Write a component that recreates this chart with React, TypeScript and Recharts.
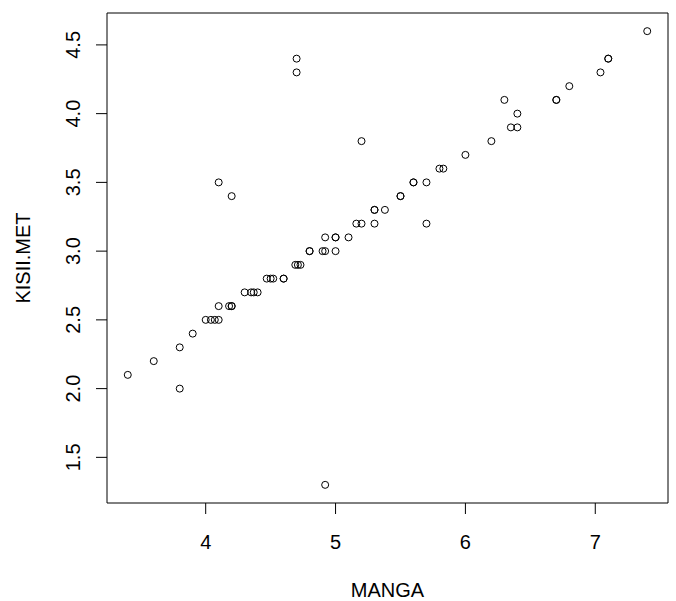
import React from "react";
import {
  ScatterChart,
  Scatter,
  XAxis,
  YAxis,
  ReferenceArea,
} from "recharts";

const mangaValues: number[] = [
  3.4, 3.6, 3.8, 3.8, 3.9, 4.0, 4.04, 4.07, 4.1, 4.1, 4.18, 4.2, 4.2, 4.1, 4.2,
  4.3, 4.35, 4.37, 4.4, 4.47, 4.5, 4.52, 4.6, 4.6, 4.69, 4.71, 4.73, 4.7, 4.7,
  4.8, 4.8, 4.9, 4.92, 5.0, 4.92, 5.0, 5.0, 5.1, 4.92, 5.16, 5.2, 5.3, 5.2,
  5.3, 5.3, 5.38, 5.5, 5.5, 5.6, 5.6, 5.7, 5.7, 5.8, 5.83, 6.0, 6.2, 6.3, 6.35,
  6.4, 6.4, 6.7, 6.7, 6.8, 7.04, 7.1, 7.1, 7.4,
];

const kisiiValues: number[] = [
  2.1, 2.2, 2.3, 2.0, 2.4, 2.5, 2.5, 2.5, 2.5, 2.6, 2.6, 2.6, 2.6, 3.5, 3.4,
  2.7, 2.7, 2.7, 2.7, 2.8, 2.8, 2.8, 2.8, 2.8, 2.9, 2.9, 2.9, 4.4, 4.3,
  3.0, 3.0, 3.0, 3.0, 3.0, 3.1, 3.1, 3.1, 3.1, 1.3, 3.2, 3.2, 3.2, 3.8,
  3.3, 3.3, 3.3, 3.4, 3.4, 3.5, 3.5, 3.5, 3.2, 3.6, 3.6, 3.7, 3.8, 4.1, 3.9,
  3.9, 4.0, 4.1, 4.1, 4.2, 4.3, 4.4, 4.4, 4.6,
];

const xTicks: number[] = [4, 5, 6, 7];
const yTicks: number[] = [1.5, 2.0, 2.5, 3.0, 3.5, 4.0, 4.5];
const xDomain: [number, number] = [3.24, 7.56];
const yDomain: [number, number] = [1.168, 4.732];

const data = mangaValues.map((m, i) => ({ MANGA: m, KISII: kisiiValues[i] }));

const FONT = "'Liberation Sans', Arial, Helvetica, sans-serif";

const XTick = (props: any) => {
  const { x, y, payload } = props;
  return (
    <text
      x={x}
      y={y + 28}
      textAnchor="middle"
      dominantBaseline="central"
      fontFamily={FONT}
      fontSize={20}
      fill="#000"
    >
      {payload.value}
    </text>
  );
};

const YTick = (props: any) => {
  const { x, y, payload } = props;
  const cx = x - 23;
  return (
    <text
      x={cx}
      y={y}
      transform={`rotate(-90, ${cx}, ${y})`}
      textAnchor="middle"
      dominantBaseline="central"
      fontFamily={FONT}
      fontSize={20}
      fill="#000"
    >
      {Number(payload.value).toFixed(1)}
    </text>
  );
};

const Dot = (props: any) => {
  const { cx, cy } = props;
  return <circle cx={cx} cy={cy} r={3.5} fill="none" stroke="#000" strokeWidth={1} />;
};

export default function App() {
  return (
    <div style={{ position: "absolute", left: 0, top: 0, background: "#fff" }}>
      <ScatterChart
        width={676}
        height={601}
        margin={{ top: 13, right: 8, bottom: 0, left: 0 }}
      >
        <XAxis
          type="number"
          dataKey="MANGA"
          domain={xDomain}
          ticks={xTicks}
          allowDataOverflow
          height={98}
          tickSize={11}
          tickMargin={0}
          tick={<XTick />}
          stroke="#000"
          axisLine={false}
          tickLine={{ stroke: "#000" }}
          label={(lp: any) => {
            const vb = lp.viewBox || {};
            return (
              <text
                x={vb.x + vb.width / 2}
                y={vb.y + 87}
                textAnchor="middle"
                dominantBaseline="central"
                fontFamily={FONT}
                fontSize={20}
                fill="#000"
              >
                MANGA
              </text>
            );
          }}
        />
        <YAxis
          type="number"
          dataKey="KISII"
          domain={yDomain}
          ticks={yTicks}
          allowDataOverflow
          width={107}
          tickSize={11}
          tickMargin={0}
          tick={<YTick />}
          stroke="#000"
          axisLine={false}
          tickLine={{ stroke: "#000" }}
          label={(lp: any) => {
            const vb = lp.viewBox || {};
            const cx = vb.x + 22.5;
            const cy = vb.y + vb.height / 2;
            return (
              <text
                x={cx}
                y={cy}
                transform={`rotate(-90, ${cx}, ${cy})`}
                textAnchor="middle"
                dominantBaseline="central"
                fontFamily={FONT}
                fontSize={20}
                fill="#000"
              >
                KISII.MET
              </text>
            );
          }}
        />
        <ReferenceArea
          x1={xDomain[0]}
          x2={xDomain[1]}
          y1={yDomain[0]}
          y2={yDomain[1]}
          fill="none"
          fillOpacity={0}
          stroke="#000"
          strokeWidth={1}
          ifOverflow="visible"
        />
        <Scatter data={data} shape={<Dot />} isAnimationActive={false} />
      </ScatterChart>
    </div>
  );
}
